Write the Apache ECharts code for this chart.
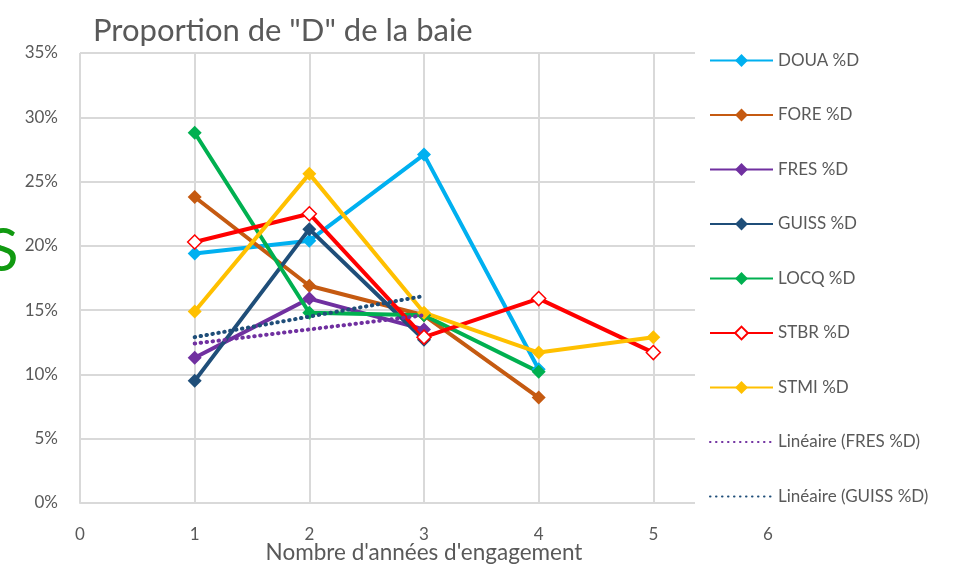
<!DOCTYPE html>
<html>
<head>
<meta charset="utf-8">
<script src="https://cdn.jsdelivr.net/npm/echarts@6/dist/echarts.min.js"></script>
<style>
  html, body { margin: 0; padding: 0; background: #fff; }
  #chart { width: 956px; height: 566px; }
</style>
</head>
<body>
<div id="chart"></div>
<script>
// Years of engagement (x positions)
var years = [1, 2, 3, 4, 5];

// Share of "D" berries per site, in percent
var douaD  = [19.4, 20.4, 27.1, 10.4];
var foreD  = [23.8, 16.9, 14.6, 8.2];
var fresD  = [11.3, 15.9, 13.5];
var guissD = [9.5, 21.3, 12.7];
var locqD  = [28.8, 14.8, 14.6, 10.2];
var stbrD  = [20.3, 22.5, 12.9, 15.9, 11.7];
var stmiD  = [14.9, 25.6, 14.8, 11.7, 12.9];

// Linear trend lines, endpoints at year 1 and year 3
var trendYears = [1, 3];
var fresTrend  = [12.4, 14.6];
var guissTrend = [12.9, 16.1];

var seriesNames = ['DOUA %D', 'FORE %D', 'FRES %D', 'GUISS %D', 'LOCQ %D', 'STBR %D', 'STMI %D',
                   'Linéaire (FRES %D)', 'Linéaire (GUISS %D)'];
var xTicks = [0, 1, 2, 3, 4, 5, 6];

var TEXT = '#595959';
var FONT = 'Lato, "Noto Sans", sans-serif';

function pairs(xs, ys) {
  return ys.map(function (v, i) { return [xs[i], v]; });
}

function lineSeries(name, values, color, hollow) {
  return {
    name: name,
    type: 'line',
    data: pairs(years, values),
    symbol: 'diamond',
    symbolSize: 14,
    lineStyle: { color: color, width: 4 },
    itemStyle: hollow
      ? { color: '#ffffff', borderColor: color, borderWidth: 1.5 }
      : { color: color },
    emphasis: { disabled: true },
    z: 3
  };
}

function trendSeries(name, values, color) {
  return {
    name: name,
    type: 'line',
    data: pairs(trendYears, values),
    symbol: 'none',
    lineStyle: { color: color, width: 4, type: [0.5, 5.5], cap: 'round' },
    itemStyle: { color: color },
    emphasis: { disabled: true },
    z: 4
  };
}

// Legend entries; trend lines show only their dotted stroke
var legendData = seriesNames.map(function (n, i) {
  return i < 7 ? { name: n } : { name: n, itemStyle: { opacity: 0 } };
});

var chart = echarts.init(document.getElementById('chart'), null, { renderer: 'canvas' });

chart.setOption({
  animation: false,
  backgroundColor: '#ffffff',
  title: {
    text: 'Proportion de "D" de la baie',
    left: 88,
    top: 10,
    textStyle: { fontFamily: FONT, fontSize: 31, fontWeight: 'normal', color: TEXT }
  },
  grid: { left: 80, right: 188, top: 53, bottom: 63, outerBoundsMode: 'none', containLabel: false },
  xAxis: {
    type: 'value',
    min: xTicks[0],
    max: xTicks[xTicks.length - 1],
    interval: 1,
    name: "Nombre d'années d'engagement",
    nameLocation: 'middle',
    nameGap: 38,
    nameMoveOverlap: false,
    nameTextStyle: { fontFamily: FONT, fontSize: 22.5, color: TEXT, verticalAlign: 'top' },
    axisLine: { show: true, lineStyle: { color: '#d9d9d9', width: 2 } },
    axisTick: { show: false },
    axisLabel: { margin: 23, fontFamily: FONT, fontSize: 17, color: TEXT },
    splitLine: { show: true, lineStyle: { color: '#d9d9d9', width: 2 } }
  },
  yAxis: {
    type: 'value',
    min: 0,
    max: 35,
    interval: 5,
    axisLine: { show: false },
    axisTick: { show: false },
    axisLabel: { margin: 22, fontFamily: FONT, fontSize: 17, color: TEXT, formatter: '{value}%' },
    splitLine: { show: true, lineStyle: { color: '#d9d9d9', width: 2 } }
  },
  legend: {
    orient: 'vertical',
    left: 695,
    top: 40,
    padding: [12, 40, 10, 14],
    backgroundColor: '#ffffff',
    itemWidth: 63,
    itemHeight: 16,
    itemGap: 37.5,
    data: legendData,
    textStyle: { fontFamily: FONT, fontSize: 17, color: TEXT, lineHeight: 17 },
    z: 10
  },
  graphic: [{
    type: 'text',
    left: -14,
    top: 222,
    style: { text: 'S', fontFamily: FONT, fontSize: 60, fill: '#119a11' }
  }],
  series: [
    lineSeries(seriesNames[0], douaD, '#00B0F0'),
    lineSeries(seriesNames[1], foreD, '#C55A11'),
    lineSeries(seriesNames[2], fresD, '#7030A0'),
    lineSeries(seriesNames[3], guissD, '#1F4E79'),
    lineSeries(seriesNames[4], locqD, '#00B050'),
    lineSeries(seriesNames[5], stbrD, '#FF0000', true),
    lineSeries(seriesNames[6], stmiD, '#FFC000'),
    trendSeries(seriesNames[7], fresTrend, '#7030A0'),
    trendSeries(seriesNames[8], guissTrend, '#1F4E79')
  ]
});
</script>
</body>
</html>
